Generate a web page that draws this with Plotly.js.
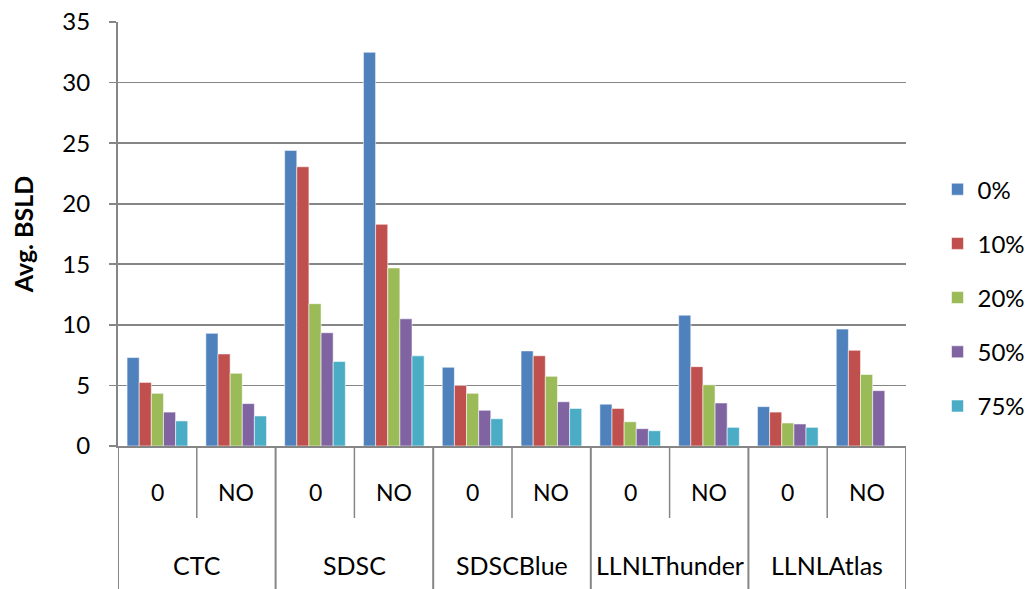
<!DOCTYPE html>
<html>
<head>
<meta charset="utf-8">
<script src="https://cdn.plot.ly/plotly-3.0.1.min.js"></script>
<style>html,body{margin:0;padding:0;background:#fff;}#chart{width:1032px;height:589px;}</style>
</head>
<body>
<div id="chart"></div>
<script>
// Data
const groups = ["CTC", "SDSC", "SDSCBlue", "LLNLThunder", "LLNLAtlas"];
const subs = ["0", "NO"];
const seriesNames = ["0%", "10%", "20%", "50%", "75%"];
const v0  = [7.3, 9.3, 24.4, 32.5, 6.5, 7.85, 3.45, 10.8, 3.25, 9.65];
const v10 = [5.25, 7.6, 23.05, 18.3, 5.0, 7.45, 3.1, 6.55, 2.8, 7.9];
const v20 = [4.35, 6.0, 11.75, 14.7, 4.35, 5.75, 2.0, 5.05, 1.9, 5.9];
const v50 = [2.8, 3.5, 9.35, 10.5, 2.95, 3.65, 1.43, 3.55, 1.82, 4.57];
const v75 = [2.07, 2.48, 6.97, 7.44, 2.25, 3.1, 1.26, 1.54, 1.54, null];
const yTicks = [0, 5, 10, 15, 20, 25, 30, 35];

const colors = ["#4F81BD", "#C0504D", "#9BBB59", "#8064A2", "#4BACC6"];
const allValues = [v0, v10, v20, v50, v75];

// category index positions
const xs = [];
const subLabels = [];
groups.forEach((g, gi) => subs.forEach((s, si) => { xs.push(gi * subs.length + si); subLabels.push(s); }));

const FONT = "Lato, 'Noto Sans', sans-serif";
const GRID = "#868686";

const traces = allValues.map((vals, i) => ({
  type: "bar",
  x: xs,
  y: vals,
  name: seriesNames[i],
  legendgroup: "g" + i,
  marker: { color: colors[i], line: { color: "rgba(255,255,255,0.55)", width: 1 } },
  hoverinfo: "y+name"
}));

const plotBottomPx = 446, plotTopPx = 22;
const plotH = plotBottomPx - plotTopPx;
const pxToPaper = (py) => (plotBottomPx - py) / plotH;

const annotations = [];
xs.forEach((x, i) => annotations.push({
  x: x, xref: "x", y: pxToPaper(492), yref: "paper",
  text: subLabels[i], showarrow: false, xanchor: "center", yanchor: "middle",
  font: { family: FONT, size: 23, color: "#000" }
}));
groups.forEach((g, gi) => annotations.push({
  x: gi * subs.length + (subs.length - 1) / 2, xref: "x", y: pxToPaper(565), yref: "paper",
  text: g, showarrow: false, xanchor: "center", yanchor: "middle",
  font: { family: FONT, size: 25, color: "#000" }
}));

const shapes = [];
// y axis line extending below plot
shapes.push({ type: "line", xref: "x", yref: "paper", x0: -0.5, x1: -0.5, y0: 0, y1: pxToPaper(600), line: { color: GRID, width: 2 } });
// group dividers
for (let gi = 1; gi <= groups.length; gi++) {
  const bx = gi * subs.length - 0.5;
  shapes.push({ type: "line", xref: "x", yref: "paper", x0: bx, x1: bx, y0: 0, y1: pxToPaper(600), line: { color: GRID, width: 2 } });
}
// inner dividers
for (let gi = 0; gi < groups.length; gi++) {
  const bx = gi * subs.length + 0.5;
  shapes.push({ type: "line", xref: "x", yref: "paper", x0: bx, x1: bx, y0: 0, y1: pxToPaper(518), line: { color: GRID, width: 1.5 } });
}

const layout = {
  width: 1032, height: 589,
  margin: { l: 118, r: 126, t: 22, b: 143, pad: 0, autoexpand: false },
  paper_bgcolor: "#fff", plot_bgcolor: "#fff",
  font: { family: FONT, size: 23, color: "#000" },
  barmode: "group", bargap: 0.23, bargroupgap: 0,
  xaxis: {
    type: "linear", range: [-0.5, 9.5], showticklabels: false, showgrid: false,
    zeroline: false, showline: true, linecolor: GRID, linewidth: 2, ticks: "", fixedrange: true
  },
  yaxis: {
    range: [0, 35], tickvals: yTicks, ticktext: yTicks.map(String),
    showgrid: true, gridcolor: GRID, gridwidth: 1.6, zeroline: false,
    showline: true, linecolor: GRID, linewidth: 2,
    ticks: "outside", ticklen: 7, tickcolor: GRID, tickwidth: 1.6,
    ticklabelstandoff: 14,
    tickfont: { family: FONT, size: 24, color: "#000" },
    title: { text: "<b>Avg. BSLD</b>", font: { family: FONT, size: 25, color: "#000" }, standoff: 22 },
    fixedrange: true
  },
  showlegend: true,
  legend: {
    x: 1.04, xanchor: "left", y: 0.35, yanchor: "middle",
    traceorder: "grouped", tracegroupgap: 20,
    font: { family: FONT, size: 24, color: "#000" },
    bgcolor: "rgba(0,0,0,0)", borderwidth: 0
  },
  annotations: annotations,
  shapes: shapes
};

Plotly.newPlot("chart", traces, layout, { staticPlot: true, displayModeBar: false });
</script>
</body>
</html>
